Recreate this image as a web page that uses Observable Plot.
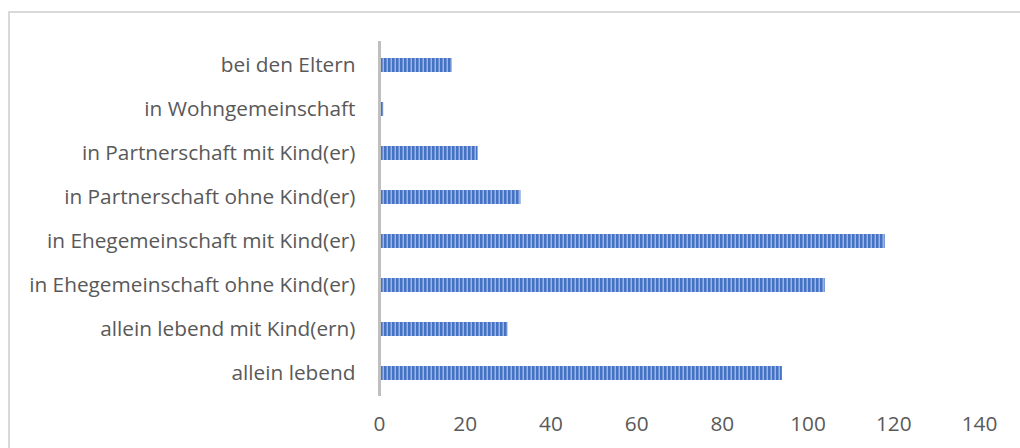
<!DOCTYPE html>
<html>
<head>
<meta charset="utf-8">
<script src="https://cdn.jsdelivr.net/npm/d3@7"></script>
<script src="https://cdn.jsdelivr.net/npm/@observablehq/plot@0.6"></script>
<style>
  html, body { margin: 0; padding: 0; background: #fff; }
  #chart { width: 1020px; height: 448px; overflow: hidden; }
</style>
</head>
<body>
<div id="chart"></div>
<script>
// Wohnform der Befragten (Anzahl)
const categories = [
  "bei den Eltern",
  "in Wohngemeinschaft",
  "in Partnerschaft mit Kind(er)",
  "in Partnerschaft ohne Kind(er)",
  "in Ehegemeinschaft mit Kind(er)",
  "in Ehegemeinschaft ohne Kind(er)",
  "allein lebend mit Kind(ern)",
  "allein lebend"
];
const counts = [17, 1, 23, 33, 118, 104, 30, 94];
const xTicks = [0, 20, 40, 60, 80, 100, 120, 140];

const data = categories.map((c, i) => ({ category: c, value: counts[i] }));

const font = "'Open Sans', Lato, sans-serif";
const textColor = "#595959";

const chart = Plot.plot({
  width: 1020,
  height: 448,
  marginLeft: 379,
  marginRight: 41,
  marginTop: 41,
  marginBottom: 52,
  style: { fontFamily: font, fontSize: "20.8px", color: textColor, background: "#fff" },
  x: { domain: [0, 140], ticks: xTicks, label: null },
  y: { domain: categories, paddingInner: 0.685, paddingOuter: 0.3425, label: null },
  marks: [
    Plot.barX(data, { x: "value", y: "category", fill: "url(#stripes)" }),
    Plot.ruleX([0], { stroke: "#bfbfbf", strokeWidth: 3, y1: null, y2: null }),
    Plot.axisX({ ticks: xTicks, tickSize: 0, tickPadding: 20, fill: textColor, label: null }),
    Plot.axisY({ tickSize: 0, tickPadding: 24, fill: textColor, label: null })
  ]
});

// Striped fill used by the bars
const svg = d3.select(chart);
const defs = svg.insert("defs", ":first-child");
const pat = defs.append("pattern")
  .attr("id", "stripes")
  .attr("patternUnits", "userSpaceOnUse")
  .attr("width", 4)
  .attr("height", 4);
pat.append("rect").attr("width", 4).attr("height", 4).attr("fill", "#4472c4");
pat.append("rect").attr("x", 2.5).attr("width", 1.5).attr("height", 4).attr("fill", "#9db4e0");

// Chart area border
svg.append("rect")
  .attr("x", 9).attr("y", 12)
  .attr("width", 1100).attr("height", 600)
  .attr("fill", "none")
  .attr("stroke", "#d9d9d9")
  .attr("stroke-width", 2);

document.getElementById("chart").append(chart);
</script>
</body>
</html>
